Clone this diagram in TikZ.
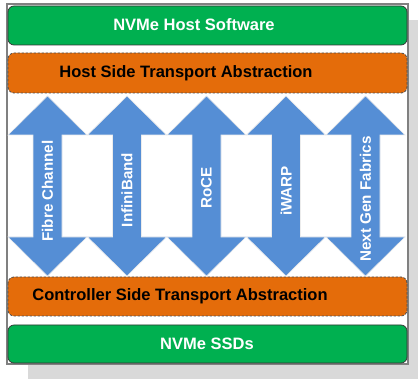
\documentclass[tikz,border=0pt]{standalone}
\usepackage{fontspec}
\setmainfont{Liberation Sans}
\definecolor{nvgreen}{HTML}{00B050}
\definecolor{nvorange}{HTML}{E46C0A}
\definecolor{nvblue}{HTML}{558ED5}
\definecolor{shadowgray}{HTML}{D9D9D9}
\definecolor{framegray}{HTML}{808080}
\begin{document}
\begin{tikzpicture}[x=1pt,y=-1pt,
  greenbox/.style={fill=nvgreen,draw=black!80,line width=0.7pt,rounded corners=6pt},
  orangebox/.style={fill=nvorange,draw=black!70,dashed,dash pattern=on 2.5pt off 1.5pt,line width=0.8pt,rounded corners=6pt},
  whitelabel/.style={text=white,font=\fontsize{16.5}{18}\selectfont\bfseries},
  blacklabel/.style={text=black,font=\fontsize{16.5}{18}\selectfont\bfseries},
  arrowlabel/.style={text=white,font=\fontsize{15.2}{17}\selectfont\bfseries,rotate=90},
  fabric/.style={fill=nvblue,draw=white!85!gray,line width=0.6pt}]
\useasboundingbox (0,0) rectangle (418,379);
% shadow and frame
\fill[shadowgray] (28,20) rectangle (418,379);
\draw[fill=white,draw=framegray,line width=1.2pt] (7,4) rectangle (408,364);
% layers
\draw[greenbox] (8,6) rectangle (407,45);
\node[whitelabel] (hostsw) at (194,25) {NVMe Host Software};
\draw[orangebox] (8,53) rectangle (407,93);
\node[blacklabel] (hostta) at (186,73) {Host Side Transport Abstraction};
\draw[orangebox] (8,277) rectangle (407,316);
\node[blacklabel] (ctrlta) at (180,296) {Controller Side Transport Abstraction};
\draw[greenbox] (8,325) rectangle (407,363);
\node[whitelabel] (ssds) at (207,344) {NVMe SSDs};
% double arrows
\foreach \cx in {47.5,127,206.5,286,365.5}{
  \draw[fabric] (\cx,96) -- (\cx+39.5,135) -- (\cx+14.5,135) -- (\cx+14.5,237)
    -- (\cx+39.5,237) -- (\cx,276) -- (\cx-39.5,237) -- (\cx-14.5,237)
    -- (\cx-14.5,135) -- (\cx-39.5,135) -- cycle;
}
\node[arrowlabel] (fc) at (47.5,191) {Fibre Channel};
\node[arrowlabel] (ib) at (127,190) {InfiniBand};
\node[arrowlabel] (roce) at (206.5,188) {RoCE};
\node[arrowlabel] (iwarp) at (286,191) {iWARP};
\node[arrowlabel] (ngf) at (365.5,199) {Next Gen Fabrics};
\end{tikzpicture}
\end{document}
